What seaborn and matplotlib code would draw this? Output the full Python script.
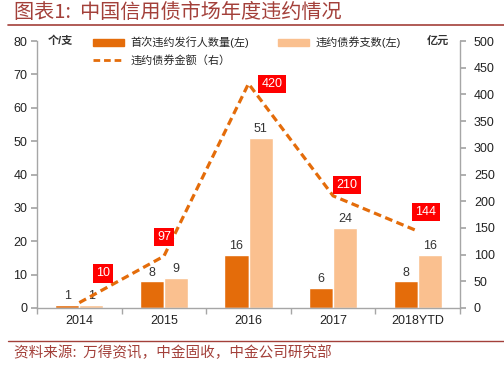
import numpy as np
import pandas as pd
import matplotlib
matplotlib.use("Agg")
import matplotlib.pyplot as plt
import seaborn as sns
from matplotlib.patches import Patch
from matplotlib.lines import Line2D

categories = ["2014", "2015", "2016", "2017", "2018YTD"]
issuers = [1, 8, 16, 6, 8]
bonds = [1, 9, 51, 24, 16]
amount = [10, 97, 420, 210, 144]

s_issuers = "首次违约发行人数量(左)"
s_bonds = "违约债券支数(左)"
s_amount = "违约债券金额（右）"

sns.set_theme(style="white")
plt.rcParams["font.family"] = ["Liberation Sans", "Noto Sans CJK SC", "DejaVu Sans"]

dark = "#E46C0A"
light = "#FAC08F"
spine_c = "#A6A6A6"
title_c = "#A3403A"

df = pd.DataFrame({
    "cat": categories * 2,
    "val": issuers + bonds,
    "series": [s_issuers] * len(categories) + [s_bonds] * len(categories),
})

fig = plt.figure(figsize=(5.04, 3.66), dpi=100)
ax = fig.add_axes([37 / 504, 1 - 308 / 366, 423 / 504, 267 / 366])

sns.barplot(data=df, x="cat", y="val", hue="series", order=categories,
            hue_order=[s_issuers, s_bonds], palette=[dark, light],
            width=0.57, ax=ax, legend=False, saturation=1)
for cont in ax.containers:
    ax.bar_label(cont, padding=2, fontsize=9, color="#333333")

ax.set_xlim(-0.5, len(categories) - 0.5)
ax.set_ylim(0, 80)
ax.set_yticks(range(0, 81, 10))
ax.set_xlabel("")
ax.set_ylabel("")
ax.set_xticks(range(len(categories)))
ax.set_xticklabels(categories)
ax.set_xticks(np.arange(-0.5, len(categories)), minor=True)
ax.tick_params(axis="x", which="major", length=0, labelsize=9, colors="#222222", pad=5)
ax.tick_params(axis="x", which="minor", length=4, color=spine_c, direction="out", bottom=True)
ax.tick_params(axis="y", length=4, color=spine_c, labelsize=9, labelcolor="#222222",
               direction="out", left=True, pad=3)
for side in ["top", "right"]:
    ax.spines[side].set_visible(False)
for side in ["left", "bottom"]:
    ax.spines[side].set_color(spine_c)
    ax.spines[side].set_linewidth(1)

ax2 = ax.twinx()
xs = np.arange(len(categories))
sns.lineplot(x=xs, y=amount, ax=ax2, color=dark, linewidth=2.3, linestyle=(0, (2.4, 1.4)))
ax2.set_ylim(0, 500)
ax2.set_yticks(range(0, 501, 50))
ax2.tick_params(axis="y", length=4, color=spine_c, labelsize=9, labelcolor="#222222",
                direction="out", right=True, pad=6)
for side in ["top", "left", "bottom"]:
    ax2.spines[side].set_visible(False)
ax2.spines["right"].set_color(spine_c)
ax2.spines["right"].set_linewidth(1)
ax2.set_ylabel("")

offsets = [(17, 21), (0, 14), (17, 0), (10, 8), (6, 14)]
for x, v, off in zip(xs, amount, offsets):
    ax2.annotate(str(v), (x, v), xytext=off, textcoords="offset points",
                 ha="center", va="center", fontsize=9, color="white",
                 bbox=dict(boxstyle="square,pad=0.25", fc="#FF0000", ec="none"))

ax.text(0.025, 1.0, "个/支", transform=ax.transAxes, fontsize=8, va="center",
        ha="left", color="#333333", fontweight="bold")
ax2.text(0.975, 1.0, "亿元", transform=ax2.transAxes, fontsize=8, va="center",
         ha="right", color="#333333", fontweight="bold")

handles = [Patch(color=dark), Line2D([], [], color=dark, lw=2, linestyle=(0, (2.4, 1.4))),
           Patch(color=light)]
labels = [s_issuers, s_amount, s_bonds]
fig.legend(handles, labels, ncol=2, loc="upper left", bbox_to_anchor=(87 / 504, 1 - 31 / 366),
           frameon=False, fontsize=8, handlelength=2.8, handleheight=0.5,
           columnspacing=2.6, labelspacing=0.6, handletextpad=0.6, borderpad=0)

fig.text(14 / 504, 1 - 12 / 366, "图表1:  中国信用债市场年度违约情况", fontsize=14.5,
         color=title_c, va="center", ha="left", style="italic",
         family=["Noto Sans CJK SC", "DejaVu Sans"])
fig.add_artist(Line2D([8 / 504, 1.0], [1 - 24.5 / 366] * 2, color=title_c, lw=1.2))
fig.add_artist(Line2D([8 / 504, 1.0], [1 - 341 / 366] * 2, color=title_c, lw=1.0))
fig.text(14 / 504, 1 - 353 / 366, "资料来源:  万得资讯，中金固收，中金公司研究部", fontsize=10.5,
         color=title_c, va="center", ha="left", style="italic",
         family=["Noto Sans CJK SC", "DejaVu Sans"])

fig.savefig("out.png", dpi=100)
